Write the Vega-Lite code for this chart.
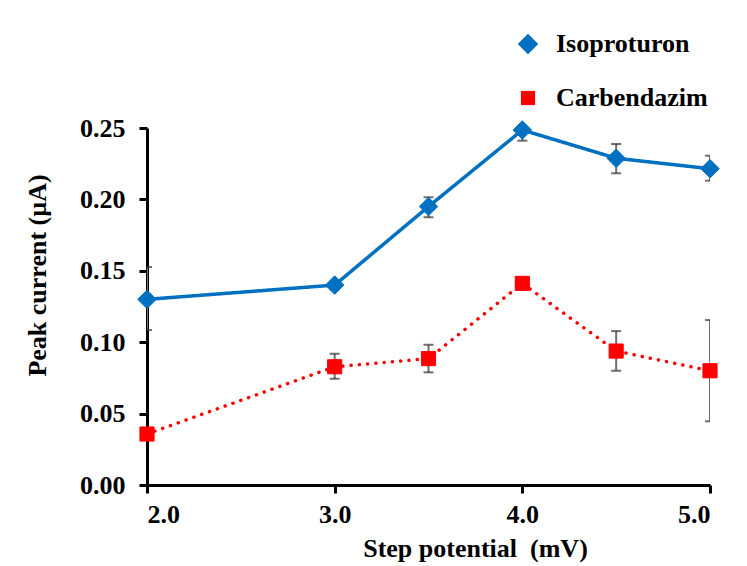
{
  "$schema": "https://vega.github.io/schema/vega-lite/v6.json",
  "width": 563,
  "height": 357,
  "autosize": {"type": "none"},
  "padding": {"left": 147, "top": 128, "right": 37, "bottom": 81},
  "background": "white",
  "config": {
    "view": {"stroke": null},
    "font": "Liberation Serif",
    "legend": {"labelFont": "Liberation Serif", "labelFontWeight": "bold", "labelFontSize": 26, "labelColor": "#000"},
    "axis": {
      "domainColor": "#000", "domainWidth": 3, "tickColor": "#000", "tickWidth": 3, "tickSize": 8,
      "labelFont": "Liberation Serif", "labelFontSize": 26, "labelFontWeight": "bold", "labelColor": "#000",
      "titleFont": "Liberation Serif", "titleFontSize": 26, "titleFontWeight": "bold", "titleColor": "#000",
      "grid": false
    }
  },
  "data": {
    "values": [
      {"series": "Isoproturon", "x": 2.0, "y": 0.130, "lo": 0.1085, "hi": 0.1527},
      {"series": "Isoproturon", "x": 3.0, "y": 0.140, "lo": 0.137, "hi": 0.143},
      {"series": "Isoproturon", "x": 3.5, "y": 0.195, "lo": 0.1875, "hi": 0.2015},
      {"series": "Isoproturon", "x": 4.0, "y": 0.2486, "lo": 0.2411, "hi": 0.256},
      {"series": "Isoproturon", "x": 4.5, "y": 0.2288, "lo": 0.2183, "hi": 0.2388},
      {"series": "Isoproturon", "x": 5.0, "y": 0.2215, "lo": 0.2131, "hi": 0.2306},
      {"series": "Carbendazim", "x": 2.0, "y": 0.0357, "lo": 0.033, "hi": 0.038},
      {"series": "Carbendazim", "x": 3.0, "y": 0.0828, "lo": 0.0744, "hi": 0.0919},
      {"series": "Carbendazim", "x": 3.5, "y": 0.0885, "lo": 0.0789, "hi": 0.0982},
      {"series": "Carbendazim", "x": 4.0, "y": 0.1412, "lo": 0.139, "hi": 0.1435},
      {"series": "Carbendazim", "x": 4.5, "y": 0.0938, "lo": 0.080, "hi": 0.1078},
      {"series": "Carbendazim", "x": 5.0, "y": 0.080, "lo": 0.0446, "hi": 0.1155}
    ]
  },
  "encoding": {
    "x": {
      "field": "x", "type": "quantitative",
      "scale": {"domain": [2, 5], "nice": false, "zero": false},
      "axis": {
        "values": [2, 3, 4, 5], "format": ".1f", "labelPadding": 8,
        "title": "Step potential \u00a0(mV)", "titleX": 328, "titleY": 50, "titleAnchor": null
      }
    },
    "color": {
      "field": "series", "type": "nominal",
      "scale": {"domain": ["Isoproturon", "Carbendazim"], "range": ["#0070C0", "#FF0000"]},
      "legend": {
        "orient": "none", "legendX": 368, "legendY": -97, "title": null, "padding": 0,
        "symbolSize": 256, "labelOffset": 15, "rowPadding": 28,
        "labelFont": "Liberation Serif", "labelFontSize": 26, "labelFontWeight": "bold", "labelColor": "#000", "labelLimit": 300
      }
    }
  },
  "layer": [
    {
      "mark": {"type": "line", "strokeWidth": 3.5, "strokeCap": "round"},
      "encoding": {
        "y": {"field": "y", "type": "quantitative", "title": "Peak current (\u00b5A)"},
        "strokeDash": {"field": "series", "type": "nominal", "scale": {"domain": ["Isoproturon", "Carbendazim"], "range": [[1, 0], [0.1, 8.2]]}, "legend": null}
      }
    },
    {
      "mark": {"type": "rule", "clip": true, "strokeWidth": 2},
      "encoding": {
        "y": {"field": "lo", "type": "quantitative", "title": "Peak current (\u00b5A)"},
        "y2": {"field": "hi"},
        "color": {"value": "#6e6e6e"}
      }
    },
    {
      "mark": {"type": "tick", "clip": true, "orient": "horizontal", "size": 10, "thickness": 2},
      "encoding": {
        "y": {"field": "lo", "type": "quantitative", "title": "Peak current (\u00b5A)"},
        "color": {"value": "#333333"}
      }
    },
    {
      "mark": {"type": "tick", "clip": true, "orient": "horizontal", "size": 10, "thickness": 2},
      "encoding": {
        "y": {"field": "hi", "type": "quantitative", "title": "Peak current (\u00b5A)"},
        "color": {"value": "#333333"}
      }
    },
    {
      "mark": {"type": "point", "filled": true, "opacity": 1, "strokeWidth": 1},
      "encoding": {
        "y": {
          "field": "y", "type": "quantitative",
          "scale": {"domain": [0, 0.25], "nice": false},
          "axis": {
            "values": [0, 0.05, 0.1, 0.15, 0.2, 0.25], "format": ".2f", "labelPadding": 14,
            "titleX": -97, "titleY": 147, "titleAnchor": null
          },
          "title": "Peak current (\u00b5A)"
        },
        "shape": {
          "field": "series", "type": "nominal",
          "scale": {"domain": ["Isoproturon", "Carbendazim"], "range": ["diamond", "square"]},
          "legend": null
        },
        "size": {
          "field": "series", "type": "nominal",
          "scale": {"domain": ["Isoproturon", "Carbendazim"], "range": [340, 200]},
          "legend": null
        },
        "stroke": {"field": "series", "type": "nominal", "scale": {"domain": ["Isoproturon", "Carbendazim"], "range": ["#0070C0", "#FF0000"]}, "legend": null}
      }
    }
  ]
}
